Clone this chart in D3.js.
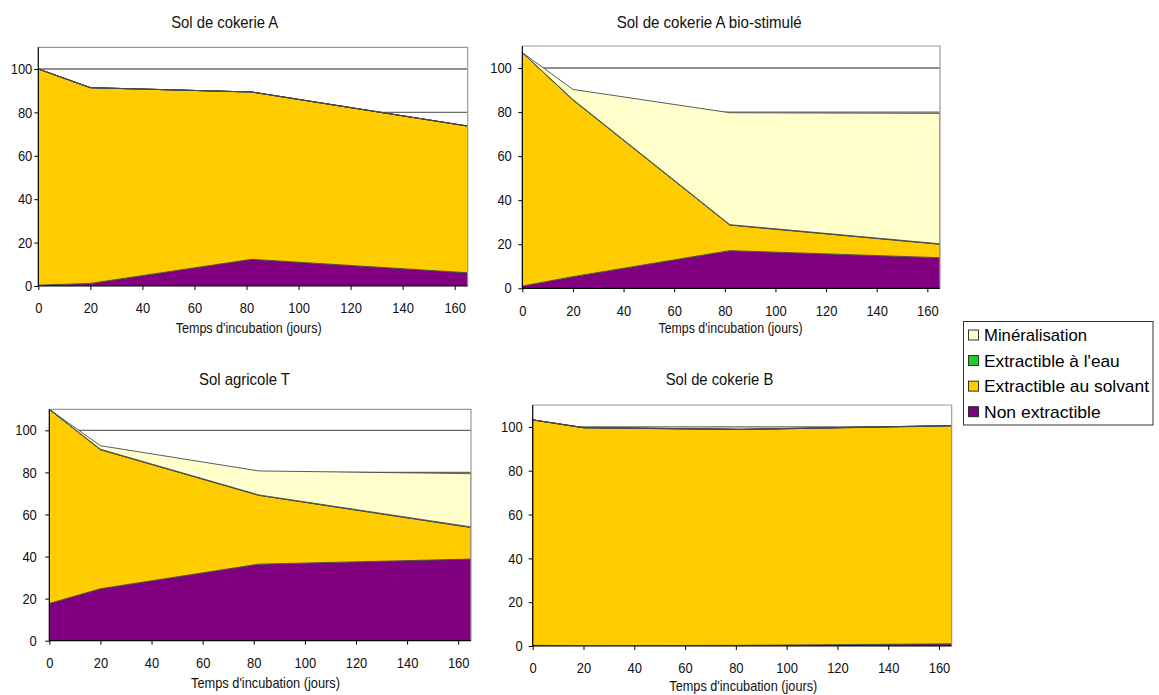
<!DOCTYPE html>
<html><head><meta charset="utf-8">
<script src="https://cdn.jsdelivr.net/npm/d3@7"></script>
<style>
html,body{margin:0;padding:0;background:#fff;}
svg{display:block;font-family:"Liberation Sans",Arial,sans-serif;}
</style></head>
<body>
<svg id="c" width="1159" height="695"></svg>
<script>
// ---- data ----
const days = [0, 20, 82, 165];
const seriesNames = ["Non extractible", "Extractible au solvant", "Extractible à l'eau", "Minéralisation"];
const legendOrder = ["Minéralisation", "Extractible à l'eau", "Extractible au solvant", "Non extractible"];
const yTicks = [0, 20, 40, 60, 80, 100];
const xTicks = [0, 20, 40, 60, 80, 100, 120, 140, 160];
const panelTitles = ["Sol de cokerie A", "Sol de cokerie A bio-stimulé", "Sol agricole T", "Sol de cokerie B"];
const xAxisTitle = "Temps d'incubation (jours)";

const cokA_non = [0.4, 1.2, 12.3, 6.1];
const cokA_solvant = [99.6, 90.2, 77.1, 67.6];
const cokA_eau = [0, 0, 0, 0];
const cokA_miner = [0, 0, 0, 0];

const cokAbio_non = [1.0, 5.3, 17.1, 13.9];
const cokAbio_solvant = [106.0, 80.2, 11.6, 6.1];
const cokAbio_eau = [0, 0.2, 0.2, 0.2];
const cokAbio_miner = [0, 4.6, 50.8, 59.2];

const agriT_non = [17.7, 24.7, 36.4, 38.8];
const agriT_solvant = [92.3, 66.1, 32.7, 15.0];
const agriT_eau = [0, 0.2, 0.2, 0.3];
const agriT_miner = [0, 1.7, 11.4, 25.3];

const cokB_non = [0.3, 0.1, 0.3, 1.0];
const cokB_solvant = [102.9, 99.5, 98.5, 99.5];
const cokB_eau = [0, 0.1, 0.1, 0.1];
const cokB_miner = [0, 0, 0, 0];

const colors = {
  "Non extractible": "#800080",
  "Extractible au solvant": "#FFCC00",
  "Extractible à l'eau": "#22CC22",
  "Minéralisation": "#FFFFCC"
};

// ---- layout ----
const panels = [
  {title: panelTitles[0], data: [cokA_non, cokA_solvant, cokA_eau, cokA_miner],
   left: 38.3, right: 467.7, top: 47.3, bottom: 286, tX: 224.7, tY: 28, tW: 107, lX: 248.7, lY: 333, lW: 146, yGap: 6},
  {title: panelTitles[1], data: [cokAbio_non, cokAbio_solvant, cokAbio_eau, cokAbio_miner],
   left: 522.3, right: 940, top: 46, bottom: 288.3, tX: 709.2, tY: 27.5, tW: 185, lX: 730.5, lY: 333, lW: 144, yGap: 10.5},
  {title: panelTitles[2], data: [agriT_non, agriT_solvant, agriT_eau, agriT_miner],
   left: 49.3, right: 471, top: 409.3, bottom: 640.7, tX: 244.5, tY: 384.5, tW: 91, lX: 265.5, lY: 688.3, lW: 149, yGap: 12.5},
  {title: panelTitles[3], data: [cokB_non, cokB_solvant, cokB_eau, cokB_miner],
   left: 532.7, right: 951.7, top: 405, bottom: 646, tX: 719.5, tY: 385, tW: 107.6, lX: 743.3, lY: 691, lW: 148, yGap: 10}
];

const svg = d3.select("#c");

panels.forEach((p, i) => {
  const x = d3.scaleLinear().domain([0, 165]).range([p.left, p.right]);
  const y = d3.scaleLinear().domain([0, 110]).range([p.bottom, p.top]);
  const g = svg.append("g");

  const rows = days.map((d, k) => {
    const r = {day: d};
    seriesNames.forEach((s, j) => r[s] = p.data[j][k]);
    return r;
  });
  const stacked = d3.stack().keys(seriesNames)(rows);

  g.append("rect").attr("x", p.left).attr("y", p.top)
    .attr("width", p.right - p.left).attr("height", p.bottom - p.top).attr("fill", "#fff");

  const clipId = "clip" + i;
  g.append("clipPath").attr("id", clipId).append("rect")
    .attr("x", p.left).attr("y", p.top).attr("width", p.right - p.left).attr("height", p.bottom - p.top);

  // gridlines
  g.append("g").selectAll("line").data(yTicks.filter(v => v > 0)).join("line")
    .attr("x1", p.left).attr("x2", p.right)
    .attr("y1", d => y(d)).attr("y2", d => y(d))
    .attr("stroke", "#6a6a6a").attr("stroke-width", 1.4);

  const area = d3.area().x(d => x(d.data.day)).y0(d => y(d[0])).y1(d => y(d[1]));
  g.append("g").attr("clip-path", `url(#${clipId})`).selectAll("path").data(stacked).join("path")
    .attr("d", area)
    .attr("fill", d => colors[d.key])
    .attr("stroke", "#4a4a4a").attr("stroke-width", 0.9).attr("stroke-linejoin", "round");

  // plot border top/right
  g.append("path")
    .attr("d", `M${p.left},${p.top}H${p.right}V${p.bottom}`)
    .attr("fill", "none").attr("stroke", "#9a9a9a").attr("stroke-width", 1.2);

  // axes
  const yAxis = d3.axisLeft(y).tickValues(yTicks).tickSize(4).tickPadding(p.yGap - 4).tickFormat(d3.format("d"));
  const ya = g.append("g").attr("transform", `translate(${p.left},0)`).call(yAxis);
  const xAxis = d3.axisBottom(x).tickValues(xTicks).tickSize(4).tickPadding(13).tickFormat(d3.format("d"));
  const xa = g.append("g").attr("transform", `translate(0,${p.bottom})`).call(xAxis);
  [ya, xa].forEach(a => {
    a.select(".domain").attr("stroke", "#000").attr("stroke-width", 1.2);
    a.selectAll(".tick line").attr("stroke", "#000").attr("stroke-width", 1);
    a.selectAll(".tick text").attr("font-size", 14.5).attr("fill", "#111")
      .attr("font-family", '"Liberation Sans",Arial,sans-serif')
      .attr("textLength", function() { return this.textContent.length * 7.2; })
      .attr("lengthAdjust", "spacingAndGlyphs");
  });
  xa.select(".domain").attr("d", `M${p.left},0H${p.right}`);
  ya.select(".domain").attr("d", `M0,${p.bottom}V${p.top}`);

  // titles
  g.append("text").attr("x", p.tX).attr("y", p.tY).attr("text-anchor", "middle")
    .attr("font-size", 17).attr("fill", "#111").text(p.title)
    .attr("textLength", p.tW).attr("lengthAdjust", "spacingAndGlyphs");
  g.append("text").attr("x", p.lX).attr("y", p.lY).attr("text-anchor", "middle")
    .attr("font-size", 15).attr("fill", "#111").text(xAxisTitle)
    .attr("textLength", p.lW).attr("lengthAdjust", "spacingAndGlyphs");
});

// ---- legend ----
const lg = svg.append("g");
lg.append("rect").attr("x", 963.5).attr("y", 321.5).attr("width", 189.5).attr("height", 103.5)
  .attr("fill", "#fff").attr("stroke", "#333").attr("stroke-width", 1);
const rowY = d3.scalePoint().domain(legendOrder).range([335, 411.7]);
const legendW = {"Minéralisation": 103, "Extractible à l'eau": 135.7, "Extractible au solvant": 165, "Non extractible": 116.7};
legendOrder.forEach(name => {
  const cy = rowY(name);
  lg.append("rect").attr("x", 968.5).attr("y", cy - 5).attr("width", 10).attr("height", 10)
    .attr("fill", colors[name]).attr("stroke", "#222").attr("stroke-width", 0.9);
  lg.append("text").attr("x", 984).attr("y", cy + 6).attr("font-size", 17).attr("fill", "#000")
    .text(name).attr("textLength", legendW[name]).attr("lengthAdjust", "spacingAndGlyphs");
});
</script>
</body></html>
